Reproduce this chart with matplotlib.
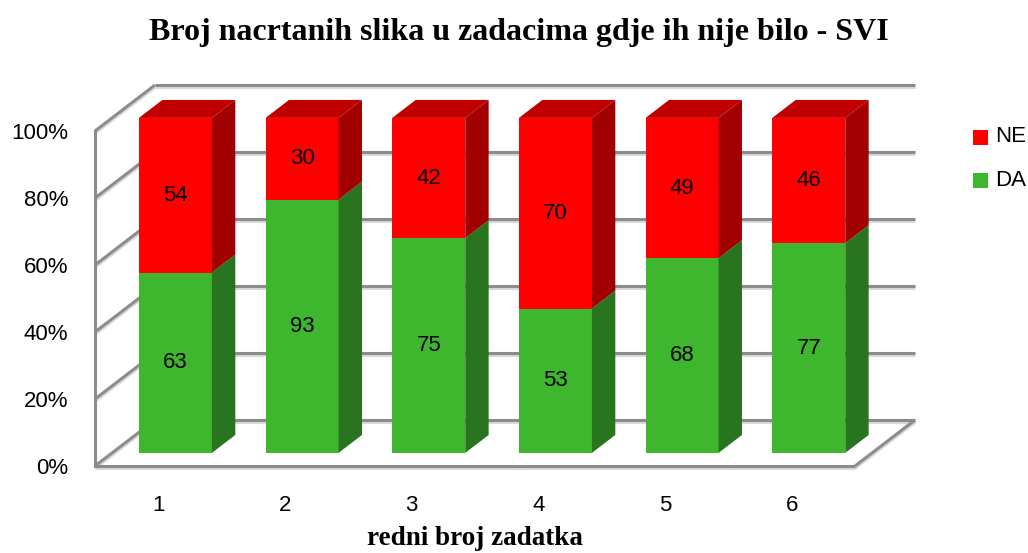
import numpy as np
import matplotlib.pyplot as plt
from matplotlib.patches import Polygon, Rectangle

# ============= data ========================
zadaci = ['1', '2', '3', '4', '5', '6']
da = np.array([63, 93, 75, 53, 68, 77])
ne = np.array([54, 30, 42, 70, 49, 46])
y_ticks = [0, 20, 40, 60, 80, 100]

title = 'Broj nacrtanih slika u zadacima gdje ih nije bilo - SVI'
xlabel = 'redni broj zadatka'

# 100% stacked
total = da + ne
da_pct = da / total * 100.
ne_pct = ne / total * 100.

# colours (front, side, top)
red = ('#FF0000', '#A00000', '#C00000')
green = ('#3EB72F', '#28741F', '#2F8F24')
wall = '#8C8C8C'
shadow = '#D9D9D9'

# oblique depth vector in data units and bar depth range
dx, dy = 0.4737, 13.73
f_front, f_back = 0.285, 0.675
bar_w = 0.576

fig = plt.figure(figsize=(10.28, 5.53), dpi=100)
ax = fig.add_axes([95 / 1028., (553 - 466) / 553., 760 / 1028., 335 / 553.])
ax.set_xlim(0.5, 6.5)
ax.set_ylim(0, 100)
for s in ax.spines.values():
    s.set_visible(False)


def wline(xs, ys):
    ax.plot(xs, [y - 0.7 for y in ys], color=shadow, lw=2.2, clip_on=False,
            zorder=1, solid_capstyle='butt')
    ax.plot(xs, ys, color=wall, lw=2.2, clip_on=False, zorder=2,
            solid_capstyle='butt')


# back wall gridlines and side wall diagonals
for v in y_ticks:
    wline([0.5 + dx, 6.5 + dx], [v + dy, v + dy])
    wline([0.5, 0.5 + dx], [v, v + dy])
# left front edge, floor front and right edges
ax.plot([0.5, 0.5], [0, 100], color=wall, lw=2.2, clip_on=False, zorder=2)
wline([0.5, 6.5], [0, 0])
wline([6.5, 6.5 + dx], [0, dy])


def box(xc, y0, y1, cols, top=False):
    l = xc - bar_w / 2 + f_front * dx
    r = xc + bar_w / 2 + f_front * dx
    ox, oy = (f_back - f_front) * dx, (f_back - f_front) * dy
    b0, b1 = y0 + f_front * dy, y1 + f_front * dy
    ax.add_patch(Polygon([(l, b0), (r, b0), (r, b1), (l, b1)], closed=True,
                         fc=cols[0], ec='none', clip_on=False, zorder=5))
    ax.add_patch(Polygon([(r, b0), (r + ox, b0 + oy), (r + ox, b1 + oy), (r, b1)],
                         closed=True, fc=cols[1], ec='none', clip_on=False, zorder=5))
    if top:
        ax.add_patch(Polygon([(l, b1), (r, b1), (r + ox, b1 + oy), (l + ox, b1 + oy)],
                             closed=True, fc=cols[2], ec='none', clip_on=False, zorder=5))


for i in range(len(zadaci)):
    xc = i + 1
    box(xc, 0, da_pct[i], green)
    box(xc, da_pct[i], 100, red, top=True)
    lx = xc + f_front * dx
    ax.text(lx, da_pct[i] / 2 + f_front * dy, str(da[i]), ha='center', va='center',
            fontsize=16, family='Liberation Sans', zorder=6)
    ax.text(lx, da_pct[i] + ne_pct[i] / 2 + f_front * dy, str(ne[i]), ha='center',
            va='center', fontsize=16, family='Liberation Sans', zorder=6)

ax.set_xticks(range(1, len(zadaci) + 1))
ax.set_xticklabels(zadaci, fontsize=16, family='Liberation Sans')
ax.set_yticks(y_ticks)
ax.set_yticklabels(['{}%'.format(v) for v in y_ticks], fontsize=16, family='Liberation Sans')
ax.tick_params(axis='x', length=0, pad=21)
ax.tick_params(axis='y', length=0, pad=19.4)

fig.text(519 / 1028., 1 - 40 / 553., title, ha='center', va='baseline',
         fontsize=23, fontweight='bold', family='Liberation Serif')
fig.text(475 / 1028., 1 - 545 / 553., xlabel, ha='center', va='baseline',
         fontsize=19.5, fontweight='bold', family='Liberation Serif')

# legend
for yc, lab, col in [(137, 'NE', red[0]), (180, 'DA', green[0])]:
    fig.patches.append(Rectangle((973 / 1028., 1 - (yc + 7.5) / 553.), 15 / 1028., 15 / 553.,
                                 transform=fig.transFigure, fc=col, ec='none'))
    fig.text(995 / 1028., 1 - yc / 553., lab, ha='left', va='center',
             fontsize=16, family='Liberation Sans')

plt.savefig('out.png', dpi=100)
